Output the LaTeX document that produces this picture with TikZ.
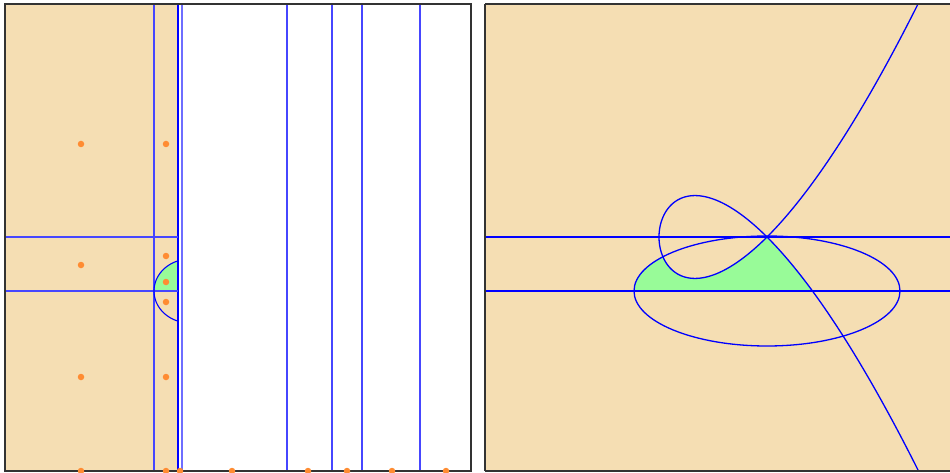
\documentclass[tikz,border=0pt]{standalone}
\usetikzlibrary{calc}
\definecolor{wheatc}{HTML}{F5DEB3}
\definecolor{greenc}{HTML}{98FB98}
\definecolor{dotc}{RGB}{255,140,50}
\definecolor{framec}{HTML}{333333}
\definecolor{lineA}{RGB}{70,70,255}
\definecolor{lineB}{RGB}{110,110,255}
\begin{document}
\begin{tikzpicture}[x=1pt,y=-1pt,
  frame/.style={draw=framec,line width=1.2pt},
  vline/.style={line width=1.2pt},
  curvec/.style={draw=blue,line width=1.3pt},
  dotn/.style={circle,fill=dotc,inner sep=0pt,minimum size=6.5pt}]
\useasboundingbox (0,0) rectangle (950,473);
% ---------- left panel ----------
\fill[wheatc] (5,4) rectangle (178,471);
\begin{scope}
  \clip (154,4) rectangle (178,291);
  \fill[greenc] plot[domain=109.47:250.53,samples=60] ({190+36*cos(\x)},{291+32*sin(\x)}) -- cycle;
\end{scope}
\draw[vline,draw=lineA] (154,4) -- (154,471);
\draw[vline,draw=blue] (178,4) -- (178,471);
\draw[vline,draw=lineB] (182,4) -- (182,471);
\draw[vline,draw=lineA] (287,4) -- (287,471);
\draw[vline,draw=lineA] (332,4) -- (332,471);
\draw[vline,draw=lineA] (362,4) -- (362,471);
\draw[vline,draw=lineA] (420,4) -- (420,471);
\draw[vline,draw=lineA] (5,237) -- (178,237);
\draw[vline,draw=lineA] (5,291) -- (178,291);
\draw[curvec,line width=1.1pt] plot[domain=109.47:250.53,samples=60,smooth] ({190+36*cos(\x)},{291+32*sin(\x)});
\draw[frame] (5,4) rectangle (471,471);
\foreach \i/\p in {a/{81,144},b/{166,144},c/{81,265},d/{166,256},e/{166,282},f/{166,302},g/{81,377},h/{166,377},
  i/{81,471},j/{166,471},k/{180,471},l/{232,471},m/{308,471},n/{347,471},o/{392,471},p/{446,471}}
  \node[dotn] (dot\i) at (\p) {};
% ---------- right panel ----------
\begin{scope}
  \clip (485,4) rectangle (952,471);
  \fill[wheatc] (485,4) rectangle (952,471);
  \begin{scope}
    \clip (767,291) ellipse [x radius=133, y radius=55];
    \clip (485,4) rectangle (952,291);
    \fill[greenc] plot[domain=0:0.9964,samples=80] ({767+\x*\x*108.78-108},{237-\x*(\x*\x*108.78-108)})
      -- plot[domain=-0.9964:-1.2,samples=30] ({767+\x*\x*108.78-108},{237-\x*(\x*\x*108.78-108)})
      -- (816,400) -- (600,400) -- (600,237) -- cycle;
  \end{scope}
  \draw[curvec,line width=1.2pt] (485,237) -- (952,237);
  \draw[curvec,line width=1.2pt] (485,291) -- (952,291);
  \draw[curvec] (767,291) ellipse [x radius=133, y radius=55];
  \draw[curvec] plot[domain=-1.62:1.62,samples=300,smooth] ({767+\x*\x*108.78-108},{237-\x*(\x*\x*108.78-108)});
\end{scope}
\draw[frame] (485,4) -- (960,4);
\draw[frame] (485,4) -- (485,471);
\draw[frame] (485,471) -- (960,471);
\end{tikzpicture}
\end{document}
